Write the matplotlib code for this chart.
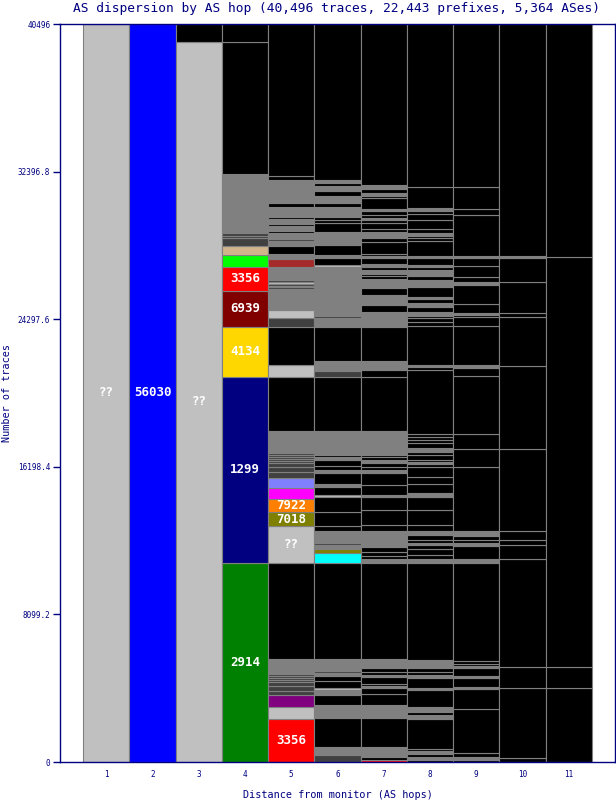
import numpy as np
import matplotlib
matplotlib.use("Agg")
import matplotlib.pyplot as plt

plt.rcParams["font.family"] = ["DejaVu Sans Mono"]

title = "AS dispersion by AS hop (40,496 traces, 22,443 prefixes, 5,364 ASes)"
total_traces = 40496
hops = list(range(1, 12))
ytick_values = [0, 8099.2, 16198.4, 24297.6, 32396.8, 40496]
ytick_labels = ["0", "8099.2", "16198.4", "24297.6", "32396.8", "40496"]

palette = {
    "k": "#000000", "g": "#808080", "d": "#404040", "l": "#c0c0c0",
    "blue": "#0000ff", "green": "#008000", "navy": "#000080", "gold": "#ffd700",
    "maroon": "#800000", "red": "#ff0000", "lime": "#00ff00", "tan": "#d2b48c",
    "brown": "#a52a2a", "purple": "#800080", "olive": "#808000", "orange": "#ff8000",
    "magenta": "#ff00ff", "slate": "#8080ff", "cyan": "#00ffff",
}

# each hop: cumulative top of every AS segment (traces), bottom to top, and its colour
hop1_tops = [40496]
hop1_cols = ["l"]

hop2_tops = [40496]
hop2_cols = ["blue"]

hop3_tops = [39509, 40496]
hop3_cols = ["l", "k"]

hop4_tops = [10920, 21126, 23870, 25845, 27162, 27793, 28314, 28753, 28863, 29028,
             29247, 29302, 29412, 29467, 29522, 29577, 29686, 29741, 29823, 29878,
             29961, 30016, 30125, 30180, 32265, 39509, 40496]
hop4_cols = ["green", "navy", "gold", "maroon", "red", "lime", "tan", "d", "d", "d",
             "g", "d", "g", "d", "g", "d", "g", "d", "g", "d",
             "g", "d", "g", "d", "g", "k", "k"]

hop5_tops = [2360, 3018, 3676, 3896, 4170, 4390, 4500, 4609, 4719, 4829,
             5652, 10920, 12950, 13718, 14432, 15035, 15584, 15913, 16188, 16407,
             16517, 16627, 16736, 16846, 16956, 18163, 21126, 21785, 23870, 24364,
             24803, 25022, 25077, 25955, 26065, 26120, 26229, 26339, 26449, 27162,
             27601, 27876, 28314, 28589, 28698, 29028, 29138, 29412, 29522, 29796,
             29906, 30455, 30674, 31936, 32156, 40496]
hop5_cols = ["red", "l", "purple", "d", "d", "d", "d", "d", "d", "d",
             "g", "k", "l", "olive", "orange", "magenta", "slate", "d", "d", "d",
             "d", "d", "d", "d", "d", "g", "k", "l", "k", "d",
             "l", "g", "d", "g", "d", "g", "d", "l", "d", "g",
             "brown", "g", "k", "g", "d", "g", "k", "g", "k", "g",
             "k", "g", "k", "g", "k", "k"]

hop6_tops = [384, 439, 823, 2414, 2744, 2799, 3128, 3676, 3951, 4061,
             4445, 4719, 4884, 4993, 5652, 10920, 11468, 11688, 11907, 12017,
             12127, 12182, 12676, 12950, 13718, 14541, 14651, 15090, 15255, 15858,
             16023, 16242, 16572, 16736, 16846, 17285, 17340, 18163, 21126, 21455,
             22004, 23870, 24364, 24473, 25022, 25077, 25845, 25900, 26339, 26394,
             27162, 27272, 27656, 27821, 28369, 29083, 29577, 29741, 29906, 30455,
             30674, 31058, 31332, 31387, 31607, 31771, 31936, 40496]
hop6_cols = ["d", "l", "g", "k", "g", "d", "g", "k", "g", "l",
             "k", "k", "g", "d", "g", "k", "cyan", "olive", "g", "d",
             "g", "d", "g", "k", "k", "k", "l", "k", "g", "k",
             "g", "k", "k", "g", "k", "g", "d", "g", "k", "d",
             "g", "k", "g", "d", "g", "d", "g", "d", "g", "d",
             "g", "l", "k", "g", "k", "g", "k", "k", "k", "g",
             "k", "g", "k", "k", "g", "k", "g", "k"]

hop7_tops = [137, 274, 823, 2414, 2744, 2799, 3128, 3731, 4061, 4170,
             4280, 4664, 4774, 4939, 5158, 5652, 10920, 11139, 11304, 11523,
             11798, 12676, 13005, 13828, 14541, 14651, 15200, 15858, 16023, 16188,
             16407, 16572, 16736, 16846, 17340, 17614, 17669, 18163, 21126, 21510,
             22004, 23870, 24364, 24693, 25077, 25626, 26010, 26504, 26668, 26778,
             26998, 27162, 27327, 27656, 27766, 27876, 28534, 28753, 29083, 29247,
             29577, 29741, 29851, 30016, 30235, 30345, 30948, 31058, 31168, 31223,
             31442, 31607, 31662, 40496]
hop7_cols = ["red", "k", "g", "k", "g", "d", "g", "k", "k", "g",
             "k", "k", "g", "k", "k", "g", "k", "g", "k", "k",
             "k", "g", "k", "k", "k", "g", "k", "k", "g", "k",
             "k", "g", "k", "k", "g", "g", "d", "g", "k", "k",
             "g", "k", "g", "g", "k", "g", "k", "g", "k", "k",
             "g", "k", "g", "k", "g", "k", "k", "k", "g", "k",
             "k", "k", "g", "k", "k", "g", "k", "k", "g", "k",
             "k", "g", "k", "k"]

hop8_tops = [110, 274, 439, 604, 713, 2360, 2579, 2744, 3018, 3951,
             4061, 4609, 4719, 4774, 4939, 5158, 5597, 10920, 11139, 11359,
             11688, 11907, 12017, 12182, 12456, 12676, 13005, 13828, 14541, 14761,
             15255, 15639, 16188, 16352, 16462, 16572, 16846, 17011, 17230, 17505,
             17669, 17834, 17998, 21510, 21675, 21785, 23925, 24144, 24364, 24473,
             24693, 24967, 25187, 25406, 25516, 26065, 26449, 26668, 26723, 26998,
             27162, 27272, 27656, 27766, 28589, 28753, 28863, 29028, 29247, 29741,
             30070, 30235, 30400, 31552, 40496]
hop8_cols = ["k", "g", "k", "g", "k", "k", "g", "k", "g", "k",
             "g", "k", "g", "k", "k", "k", "g", "k", "g", "k",
             "k", "k", "g", "k", "k", "g", "k", "k", "k", "g",
             "k", "k", "k", "k", "g", "k", "k", "k", "g", "k",
             "k", "k", "k", "k", "k", "g", "k", "k", "k", "k",
             "g", "k", "g", "k", "g", "k", "g", "k", "k", "g",
             "k", "g", "k", "g", "k", "k", "k", "g", "k", "k",
             "k", "k", "g", "k", "k"]

hop9_tops = [110, 274, 494, 2908, 4006, 4115, 4609, 4719, 5158, 5268,
             5378, 5542, 10920, 11139, 11853, 12017, 12182, 12401, 12676, 16188,
             17175, 17998, 21181, 21620, 21785, 23925, 24418, 24528, 24638, 25132,
             26174, 26339, 26613, 27217, 27656, 27766, 30016, 30345, 31552, 40496]
hop9_cols = ["k", "g", "k", "k", "k", "g", "k", "g", "k", "g",
             "k", "k", "k", "g", "k", "g", "k", "k", "g", "k",
             "k", "k", "k", "k", "g", "k", "k", "k", "g", "k",
             "k", "g", "k", "k", "k", "g", "k", "k", "k", "k"]

hop10_tops = [219, 4061, 5213, 11139, 11907, 12182, 12676, 17175, 21730, 24418,
              24638, 26339, 27656, 27766, 40496]
hop10_cols = ["k", "k", "k", "k", "k", "k", "k", "k", "k", "k",
              "k", "k", "k", "g", "k"]

hop11_tops = [4061, 5213, 27711, 40496]
hop11_cols = ["k", "k", "k", "k"]

stacks = [
    (1, hop1_tops, hop1_cols), (2, hop2_tops, hop2_cols), (3, hop3_tops, hop3_cols),
    (4, hop4_tops, hop4_cols), (5, hop5_tops, hop5_cols), (6, hop6_tops, hop6_cols),
    (7, hop7_tops, hop7_cols), (8, hop8_tops, hop8_cols), (9, hop9_tops, hop9_cols),
    (10, hop10_tops, hop10_cols), (11, hop11_tops, hop11_cols),
]

# AS numbers written on the big segments: (hop, segment top, text)
segment_labels = [
    (1, 40496, "??"), (2, 40496, "56030"), (3, 39509, "??"),
    (4, 10920, "2914"), (4, 21126, "1299"), (4, 23870, "4134"),
    (4, 25845, "6939"), (4, 27162, "3356"),
    (5, 2360, "3356"), (5, 12950, "??"), (5, 13718, "7018"), (5, 14432, "7922"),
]

axis_blue = "#000080"

fig, ax = plt.subplots(figsize=(6.16, 8), dpi=100)
fig.subplots_adjust(left=60 / 616, right=615 / 616, bottom=38 / 800, top=776 / 800)

for hop, tops, codes in stacks:
    tops = np.array(tops, dtype=float)
    bottoms = np.concatenate([[0.0], tops[:-1]])
    ax.bar(np.full(len(tops), hop), tops - bottoms, bottom=bottoms, width=1.0,
           color=[palette[c] for c in codes], edgecolor="#808080", linewidth=0.8)

tops_by_hop = {hop: tops for hop, tops, _ in stacks}
for hop, top, text in segment_labels:
    tops = tops_by_hop[hop]
    i = tops.index(top)
    bottom = tops[i - 1] if i > 0 else 0
    ax.text(hop, (bottom + top) / 2, text, color="white", fontsize=9,
            fontweight="bold", ha="center", va="center")

ax.set_xlim(0, 12)
ax.set_ylim(0, total_traces)
ax.set_xticks(hops)
ax.set_xticklabels([str(h) for h in hops])
ax.set_yticks(ytick_values)
ax.set_yticklabels(ytick_labels)
ax.tick_params(axis="x", length=0, pad=6, labelsize=5.5, labelcolor=axis_blue)
ax.tick_params(axis="y", length=5, width=1, color=axis_blue, pad=2,
               labelsize=5.5, labelcolor=axis_blue)
for s in ax.spines.values():
    s.set_color(axis_blue)
    s.set_linewidth(1)
ax.set_xlabel("Distance from monitor (AS hops)", fontsize=7.3, color=axis_blue, labelpad=8)
ax.set_ylabel("Number of traces", fontsize=7.3, color=axis_blue, labelpad=4)
fig.suptitle(title, fontsize=9.3, color=axis_blue, x=0.547, y=0.997, va="top")

plt.savefig("out.png", dpi=100)
